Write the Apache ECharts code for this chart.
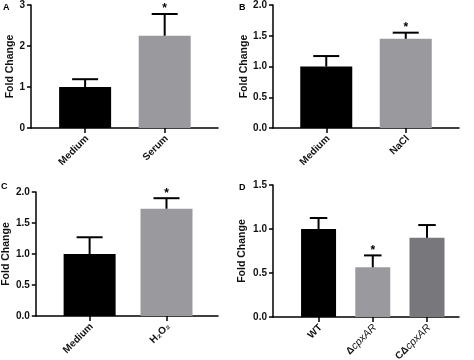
<!DOCTYPE html>
<html>
<head>
<meta charset="utf-8">
<script src="https://cdn.jsdelivr.net/npm/echarts@6/dist/echarts.min.js"></script>
<style>html,body{margin:0;padding:0;background:#fff}#c{width:474px;height:360px}</style>
</head>
<body>
<div id="c"></div>
<script>
// ---- data ----
const panelA_categories = ['Medium', 'Serum'];
const panelA_values = [1.0, 2.25];
const panelA_errors = [0.19, 0.53];
const panelA_sig = [false, true];
const panelA_yTicks = [0, 1, 2, 3];

const panelB_categories = ['Medium', 'NaCl'];
const panelB_values = [1.0, 1.45];
const panelB_errors = [0.17, 0.10];
const panelB_sig = [false, true];
const panelB_yTicks = [0, 0.5, 1.0, 1.5, 2.0];

const panelC_categories = ['Medium', 'H₂O₂'];
const panelC_values = [1.0, 1.73];
const panelC_errors = [0.27, 0.17];
const panelC_sig = [false, true];
const panelC_yTicks = [0, 0.5, 1.0, 1.5, 2.0];

const panelD_categories = ['WT', 'ΔcpxAR', 'CΔcpxAR'];
const panelD_values = [1.0, 0.565, 0.90];
const panelD_errors = [0.125, 0.135, 0.145];
const panelD_sig = [false, true, false];
const panelD_yTicks = [0, 0.5, 1.0, 1.5];

const yAxisTitle = 'Fold Change';
const panelLetters = ['A', 'B', 'C', 'D'];

// ---- layout / style ----
const FONT = '"Liberation Sans", Arial, sans-serif';
const BLACK = '#000000';
const LIGHT = '#9a9a9e';
const DARK = '#78787c';
const labelColor = '#111';

const panels = [
  { cats: panelA_categories, vals: panelA_values, errs: panelA_errors, sig: panelA_sig, ticks: panelA_yTicks,
    grid: { left: 31, top: 5, width: 187, height: 123 }, xmin: -0.68, xmax: 1.67, barW: 52, colors: [BLACK, LIGHT],
    dec: 0, nameGap: 14, letterPos: [3, 3] },
  { cats: panelB_categories, vals: panelB_values, errs: panelB_errors, sig: panelB_sig, ticks: panelB_yTicks,
    grid: { left: 273, top: 4, width: 186, height: 124 }, xmin: -0.67, xmax: 1.67, barW: 52, colors: [BLACK, LIGHT],
    dec: 1, nameGap: 23, letterPos: [239, 3] },
  { cats: panelC_categories, vals: panelC_values, errs: panelC_errors, sig: panelC_sig, ticks: panelC_yTicks,
    grid: { left: 29, top: 192, width: 189, height: 124 }, xmin: -0.70, xmax: 1.67, barW: 52, colors: [BLACK, LIGHT],
    dec: 1, nameGap: 19, letterPos: [1, 182] },
  { cats: panelD_categories, vals: panelD_values, errs: panelD_errors, sig: panelD_sig, ticks: panelD_yTicks,
    grid: { left: 273, top: 185, width: 186, height: 132 }, xmin: -0.84, xmax: 2.59, barW: 35, colors: [BLACK, LIGHT, DARK],
    dec: 1, nameGap: 25, letterPos: [239, 183] }
];

const richStyles = {
  b: { fontFamily: FONT, fontWeight: 'bold', fontSize: 10, fill: labelColor },
  it: { fontFamily: FONT, fontStyle: 'italic', fontWeight: 'normal', fontSize: 10.5, fill: labelColor }
};
function richLabel(name) {
  const m = name.match(/^(.*Δ)(cpxAR)$/);
  if (m) return '{b|' + m[1] + '}{it|' + m[2] + '}';
  return '{b|' + name + '}';
}

const grids = [], xAxes = [], yAxes = [], series = [], graphics = [];

panels.forEach((p, i) => {
  grids.push(Object.assign({ containLabel: false }, p.grid));
  const idx = p.cats.map((_, k) => k);
  xAxes.push({
    type: 'value', gridIndex: i, min: p.xmin, max: p.xmax,
    splitLine: { show: false },
    axisLine: { show: true, onZero: false, lineStyle: { color: '#000', width: 1.5 } },
    axisTick: { show: true, customValues: idx, length: 5, lineStyle: { color: '#000', width: 1.5 } },
    axisLabel: { show: false }
  });
  yAxes.push({
    type: 'value', gridIndex: i, min: p.ticks[0], max: p.ticks[p.ticks.length - 1],
    interval: p.ticks[1] - p.ticks[0],
    name: yAxisTitle, nameLocation: 'middle', nameGap: p.nameGap,
    nameTextStyle: { fontFamily: FONT, fontWeight: 'bold', fontSize: 10.5, color: labelColor },
    splitLine: { show: false },
    axisLine: { show: true, onZero: false, lineStyle: { color: '#000', width: 1.5 } },
    axisTick: { show: true, length: 4, lineStyle: { color: '#000', width: 1.5 } },
    axisLabel: { margin: 6, fontFamily: FONT, fontWeight: 'bold', fontSize: 10, color: labelColor,
      formatter: v => v.toFixed(p.dec) }
  });
  series.push({
    type: 'bar', xAxisIndex: i, yAxisIndex: i, barWidth: p.barW, silent: true,
    data: p.vals.map((v, k) => ({ value: [k, v], itemStyle: { color: p.colors[k] } }))
  });
  const half = p.barW / 4;
  // error bars + significance stars
  series.push({
    type: 'custom', xAxisIndex: i, yAxisIndex: i, silent: true, z: 5,
    data: p.vals.map((v, k) => [k, v, v + p.errs[k], p.sig[k] ? 1 : 0]),
    renderItem: (params, api) => {
      const base = api.coord([api.value(0), api.value(1)]);
      const top = api.coord([api.value(0), api.value(2)]);
      const children = [
        { type: 'line', shape: { x1: base[0], y1: base[1], x2: top[0], y2: top[1] }, style: { stroke: '#000', lineWidth: 2 } },
        { type: 'line', shape: { x1: top[0] - half, y1: top[1], x2: top[0] + half, y2: top[1] }, style: { stroke: '#000', lineWidth: 2 } }
      ];
      if (api.value(3)) {
        children.push({ type: 'text', style: { text: '*', x: top[0], y: top[1] - 5, align: 'center', verticalAlign: 'middle',
          fontFamily: FONT, fontWeight: 'bold', fontSize: 12, fill: '#000' } });
      }
      return { type: 'group', children };
    }
  });
  // rotated category labels, anchored at each category tick via the axis scale
  series.push({
    type: 'custom', xAxisIndex: i, yAxisIndex: i, silent: true, z: 6, clip: false,
    data: idx.map(k => [k, p.ticks[0]]),
    renderItem: (params, api) => {
      const pt = api.coord([api.value(0), api.value(1)]);
      const name = p.cats[params.dataIndex];
      return {
        type: 'text', x: pt[0] + 2, y: pt[1] + 9, rotation: Math.PI / 4,
        style: { text: richLabel(name), rich: richStyles, x: 0, y: 0, align: 'right', verticalAlign: 'middle',
          fontFamily: FONT, fontWeight: 'bold', fontSize: 10, fill: labelColor }
      };
    }
  });
  graphics.push({ type: 'text', left: p.letterPos[0], top: p.letterPos[1],
    style: { text: panelLetters[i], fontFamily: FONT, fontWeight: 'bold', fontSize: 9, fill: '#000' } });
});

const chart = echarts.init(document.getElementById('c'), null, { renderer: 'canvas' });
chart.setOption({
  animation: false,
  backgroundColor: '#fff',
  grid: grids, xAxis: xAxes, yAxis: yAxes, series: series, graphic: graphics
});
</script>
</body>
</html>
